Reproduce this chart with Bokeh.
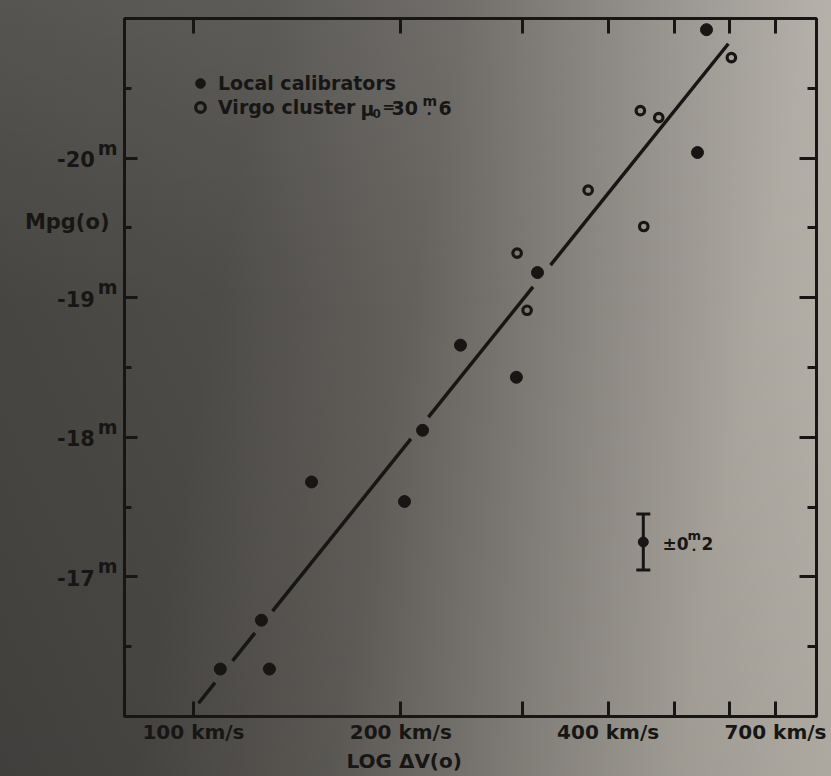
import numpy as np
from bokeh.plotting import figure
from bokeh.models import (Range1d, FixedTicker, LinearAxis, LogAxis, Label, Title,
                          Legend, LegendItem, Whisker, TeeHead, ColumnDataSource,
                          CustomLabelingPolicy)
from bokeh.embed import file_html
from bokeh.resources import INLINE

# ---------------- data ----------------
# local calibrators: rotation width (km/s) and absolute magnitude M_pg(0)
local_v = [109.4, 125.5, 128.9, 148.4, 202.5, 215.1, 244.2, 294.4, 315.9, 539.4, 555.9]
local_m = [-16.34, -16.69, -16.34, -17.68, -17.54, -18.05, -18.66, -18.43, -19.18, -20.04, -20.92]

# Virgo cluster galaxies at mu_0 = 30.6
virgo_v = [295.1, 305.1, 374.2, 450.7, 445.6, 473.8, 604.1]
virgo_m = [-19.32, -18.91, -19.77, -19.51, -20.34, -20.29, -20.72]

# adopted relation  M = fit_zero + fit_slope * (log dV - 2)
fit_zero = -16.05
fit_slope = -6.14
fit_v = [101.7, 598.0]

# typical error bar
err_v = 450.0
err_m = -17.25
err_size = 0.2

x_labelled = [100, 200, 400, 700]
x_unlabelled = [300, 500, 600]
x_tick_labels = ["100 km/s", "200 km/s", "400 km/s", "700 km/s"]
y_major = [-20, -19, -18, -17]
y_minor = [-20.5, -19.5, -18.5, -17.5, -16.5]
y_tick_text = ["-20", "-19", "-18", "-17"]
y_title = "Mpg(o)"
y_title_at = -19.54

# ---------------- layout ----------------
INK = "#171615"
FONT = "DejaVu Sans"
W, H = 831, 776
FL, FR, FT, FB = 124, 15, 18, 60
INNER_W = W - FL - FR
INNER_H = H - FT - FB
X0, X1 = 79.4, 803.0
Y0, Y1 = -16.0, -21.0
M_RAISE = 0.075    # superscript "m" sits above the tick value (mag)
D_DROP = 0.015     # digits sit a touch below it
PAD = "\u00a0\u00a0"  # room kept after the digits for the superscript

p = figure(width=W, height=H, x_axis_type="log",
           x_range=Range1d(X0, X1), y_range=Range1d(Y0, Y1),
           output_backend="svg", toolbar_location=None,
           min_border_left=FL, min_border_right=FR,
           min_border_top=FT, min_border_bottom=FB)
p.border_fill_color = None
p.background_fill_color = None
p.styles = {"background": "linear-gradient(180deg, rgba(255,255,255,0.11) 0%, "
                          "rgba(255,255,255,0.02) 40%, rgba(0,0,0,0.07) 100%), "
                          "linear-gradient(100deg, #42403d 0%, #4a4845 28%, #605d59 48%, "
                          "#8a8680 68%, #aaa69e 84%, #bab5ac 100%)"}
p.grid.visible = False
p.outline_line_color = INK
p.outline_line_width = 3

NO_LABELS = CustomLabelingPolicy(code="return new Set()")


def style_axis(ax, tick_len, minor_len=0):
    ax.axis_line_color = None
    ax.major_tick_in = tick_len
    ax.major_tick_out = 0
    ax.minor_tick_in = minor_len
    ax.minor_tick_out = 0
    ax.major_tick_line_color = INK
    ax.major_tick_line_width = 3
    ax.minor_tick_line_color = INK if minor_len else None
    ax.minor_tick_line_width = 3


def hide_labels(ax):
    ax.major_label_text_font_size = "0px"
    ax.major_label_standoff = 0
    ax.major_label_policy = NO_LABELS


def label_style(ax, size):
    ax.major_label_text_font = FONT
    ax.major_label_text_font_style = "bold"
    ax.major_label_text_font_size = size
    ax.major_label_text_color = INK


def label_only_axis(ticks, texts, size, standoff):
    ax = LinearAxis(ticker=FixedTicker(ticks=ticks))
    ax.major_label_overrides = dict(zip(ticks, texts))
    label_style(ax, size)
    ax.major_label_standoff = standoff
    ax.axis_line_color = None
    ax.major_tick_line_color = None
    ax.minor_tick_line_color = None
    ax.major_tick_in = 0
    ax.major_tick_out = 0
    return ax


# bottom: labelled velocities as major ticks, the rest as (equal length) minor ticks
xb = p.xaxis[0]
xb.ticker = FixedTicker(ticks=x_labelled, minor_ticks=x_unlabelled)
xb.major_label_overrides = dict(zip(x_labelled, x_tick_labels))
label_style(xb, "20px")
xb.major_label_standoff = 3
style_axis(xb, 15, 15)

# top: tick marks only
xt = LogAxis(ticker=FixedTicker(ticks=[], minor_ticks=x_labelled + x_unlabelled))
hide_labels(xt)
style_axis(xt, 15, 15)
p.add_layout(xt, "above")

# left: tick marks next to the frame ...
yl = p.yaxis[0]
yl.ticker = FixedTicker(ticks=y_major, minor_ticks=y_minor)
hide_labels(yl)
style_axis(yl, 13, 7)
# ... then the raised magnitude signs, then the numbers and the axis name
p.add_layout(label_only_axis([v - M_RAISE for v in y_major], ["m"] * len(y_major),
                             "19px", 7), "left")
p.add_layout(label_only_axis([v + D_DROP for v in y_major] + [y_title_at],
                             [t + PAD for t in y_tick_text] + [y_title], "21px", -15), "left")

# right: tick marks only
yr = LinearAxis(ticker=FixedTicker(ticks=y_major, minor_ticks=y_minor))
hide_labels(yr)
style_axis(yr, 17, 9)
p.add_layout(yr, "right")

# x axis title
p.add_layout(Title(text="LOG \u0394V(o)", align="left", offset=222, standoff=0,
                   text_font=FONT, text_font_style="bold", text_font_size="20px",
                   text_color=INK), "below")

# ---------------- fitted line, broken around points lying on it ----------------
sx = INNER_W / (np.log10(X1) - np.log10(X0))   # px per dex
sy = INNER_H / abs(Y1 - Y0)                       # px per mag
t0, t1 = np.log10(fit_v[0]), np.log10(fit_v[1])
A = np.array([t0 * sx, (fit_zero + fit_slope * (t0 - 2)) * sy])
B = np.array([t1 * sx, (fit_zero + fit_slope * (t1 - 2)) * sy])
L = np.linalg.norm(B - A)
u = (B - A) / L
gaps = []
for v, m in zip(local_v + virgo_v, local_m + virgo_m):
    q = np.array([np.log10(v) * sx, m * sy]) - A
    s = q @ u
    d = abs(q[0] * u[1] - q[1] * u[0])
    if d < 8 and 0 < s < L:
        gaps.append((s - 14, s + 14))
gaps.sort()
pieces, cur = [], 0.0
for g0, g1 in gaps:
    if g0 > cur:
        pieces.append((cur, g0))
    cur = max(cur, g1)
if cur < L:
    pieces.append((cur, L))
xs, ys = [], []
for s0, s1 in pieces:
    lv = [t0 + (t1 - t0) * s0 / L, t0 + (t1 - t0) * s1 / L]
    xs.append([10 ** a for a in lv])
    ys.append([fit_zero + fit_slope * (a - 2) for a in lv])
p.multi_line(xs, ys, line_color=INK, line_width=3.5, line_cap="butt")

# ---------------- points ----------------
r_local = p.scatter(local_v, local_m, marker="circle", size=12,
                    fill_color=INK, line_color=INK, line_width=1)
r_virgo = p.scatter(virgo_v, virgo_m, marker="circle", size=8.5,
                    fill_color=None, line_color=INK, line_width=3.2)

# ---------------- error bar sample ----------------
esrc = ColumnDataSource(dict(v=[err_v], lo=[err_m - err_size], hi=[err_m + err_size]))
p.add_layout(Whisker(source=esrc, base="v", lower="lo", upper="hi", dimension="height",
                     line_color=INK, line_width=3,
                     upper_head=TeeHead(size=14, line_color=INK, line_width=3),
                     lower_head=TeeHead(size=14, line_color=INK, line_width=3)))
p.scatter([err_v], [err_m], marker="circle", size=10, fill_color=INK, line_color=INK)

# ---------------- legend ----------------
legend = Legend(items=[LegendItem(label="Local calibrators", renderers=[r_local]),
                       LegendItem(label="Virgo cluster", renderers=[r_virgo])],
                location=(64, 597), orientation="vertical",
                background_fill_alpha=0, border_line_color=None,
                padding=0, margin=0, spacing=0, glyph_width=24, glyph_height=24,
                label_standoff=6, label_height=20,
                label_text_font=FONT, label_text_font_style="bold",
                label_text_font_size="19px", label_text_color=INK)
p.add_layout(legend)


def txt(x, y, text, size, align="left", baseline="middle"):
    # positions given from the top-left corner of the canvas
    p.add_layout(Label(x=x - FL, y=(FT + INNER_H) - y, x_units="screen", y_units="screen",
                       text=text, text_font=FONT, text_font_style="bold",
                       text_font_size=size, text_color=INK,
                       text_align=align, text_baseline=baseline))


# rest of the Virgo legend entry
txt(360, 108, "\u03bc", "19px")
txt(372, 113, "0", "12px")
txt(382, 106, "=", "15px")
txt(391, 107, "30", "19px")
txt(422, 100, "m", "14px")
txt(426, 109, ".", "14px")
txt(438, 107, "6", "19px")

# error bar annotation
txt(662, 543, "\u00b10", "17px")
txt(687, 535, "m", "13px")
txt(691, 546, ".", "13px")
txt(701, 543, "2", "17px")

open("out.html", "w").write(file_html(p, INLINE))
